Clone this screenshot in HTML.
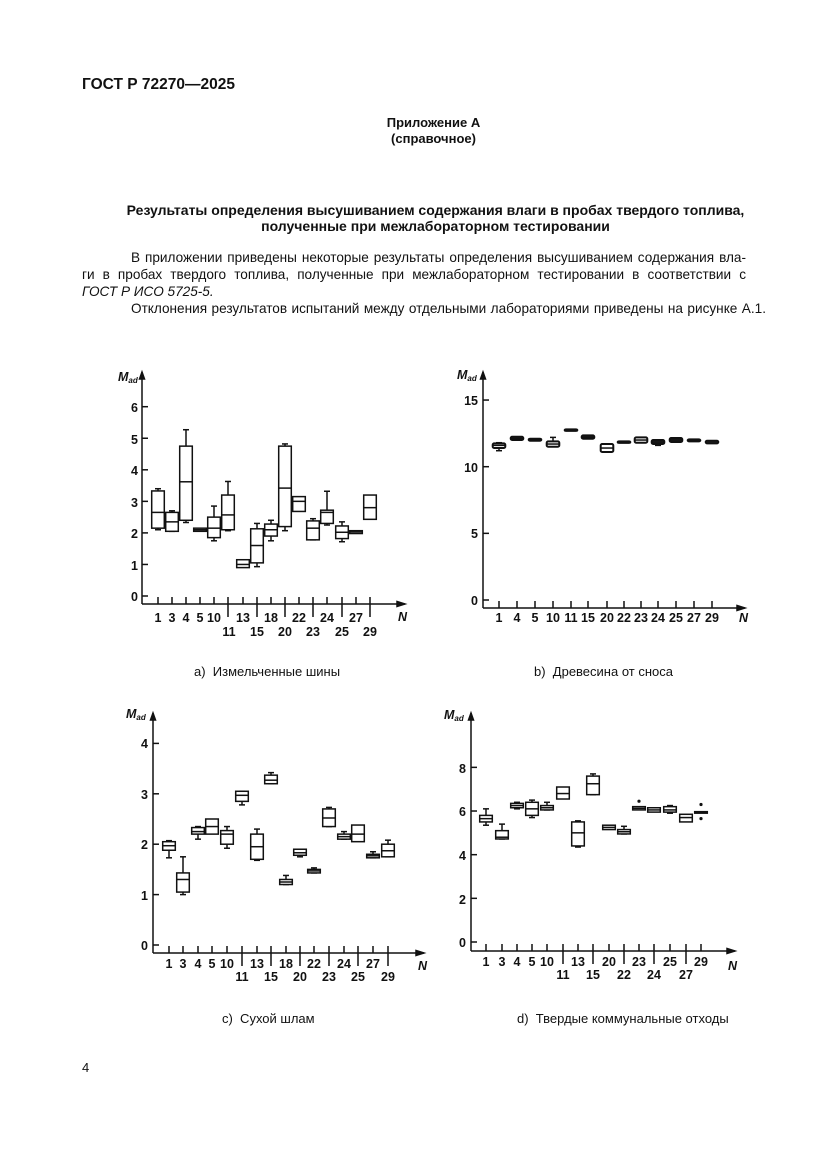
<!DOCTYPE html>
<html><head><meta charset="utf-8"><style>
body{margin:0;background:#fff;}
#p{position:relative;width:827px;height:1169px;font-family:"Liberation Sans",Arial,sans-serif;color:#111;}
.t{position:absolute;font-size:13px;white-space:nowrap;}
.b{font-weight:bold;}
.c{left:20px;width:827px;text-align:center;}
.j{position:absolute;left:82px;width:664px;font-size:13.6px;text-align:justify;text-align-last:justify;white-space:nowrap;}
svg{position:absolute;left:0;top:0;}
svg text{font-family:"Liberation Sans",Arial,sans-serif;font-size:12.5px;font-weight:bold;fill:#111;}
</style></head><body><div id="p">
<div class="t b" style="left:82px;top:76px;font-size:15.5px;">ГОСТ Р 72270—2025</div>
<div class="t b c" style="top:115px;">Приложение А</div>
<div class="t b c" style="top:131px;">(справочное)</div>
<div class="t b c" style="top:202px;font-size:14px;left:22px;">Результаты определения высушиванием содержания влаги в пробах твердого топлива,</div>
<div class="t b c" style="top:218px;font-size:14px;left:22px;">полученные при межлабораторном тестировании</div>
<div class="j" style="left:131px;width:615px;top:250px;">В приложении приведены некоторые результаты определения высушиванием содержания вла-</div>
<div class="j" style="top:267px;">ги в пробах твердого топлива, полученные при межлабораторном тестировании в соответствии с</div>
<div class="t" style="left:82px;top:284px;font-style:italic;font-size:13.6px;">ГОСТ Р ИСО 5725-5.</div>
<div class="j" style="left:131px;width:635px;top:301px;">Отклонения результатов испытаний между отдельными лабораториями приведены на рисунке А.1.</div>
<div class="t" style="left:194px;top:664px;">а)&nbsp; Измельченные шины</div>
<div class="t" style="left:534px;top:664px;">b)&nbsp; Древесина от сноса</div>
<div class="t" style="left:222px;top:1011px;">с)&nbsp; Сухой шлам</div>
<div class="t" style="left:517px;top:1011px;">d)&nbsp; Твердые коммунальные отходы</div>
<div class="t" style="left:82px;top:1060px;">4</div>
<svg id="s" width="827" height="1169" xmlns="http://www.w3.org/2000/svg">
<g font-style="italic"><text x="118" y="381" font-style="italic">M<tspan font-size="8" dy="2">ad</tspan></text>
<text x="457" y="379" font-style="italic">M<tspan font-size="8" dy="2">ad</tspan></text>
<text x="126" y="718" font-style="italic">M<tspan font-size="8" dy="2">ad</tspan></text>
<text x="444" y="719" font-style="italic">M<tspan font-size="8" dy="2">ad</tspan></text>
<text x="398" y="621" font-style="italic">N</text>
<text x="739" y="622" font-style="italic">N</text>
<text x="418" y="970" font-style="italic">N</text>
<text x="728" y="970" font-style="italic">N</text></g>
<g text-anchor="end">
<text x="138" y="601">0</text><text x="138" y="570">1</text><text x="138" y="538">2</text><text x="138" y="507">3</text><text x="138" y="475">4</text><text x="138" y="444">5</text><text x="138" y="412">6</text>
<text x="478" y="605">0</text><text x="478" y="538">5</text><text x="478" y="472">10</text><text x="478" y="405">15</text>
<text x="148" y="950">0</text><text x="148" y="900">1</text><text x="148" y="849">2</text><text x="148" y="799">3</text><text x="148" y="748">4</text>
<text x="466" y="947">0</text><text x="466" y="904">2</text><text x="466" y="860">4</text><text x="466" y="816">6</text><text x="466" y="773">8</text>
</g>
<g text-anchor="middle">
<text x="158" y="622">1</text><text x="172" y="622">3</text><text x="186" y="622">4</text><text x="200" y="622">5</text><text x="214" y="622">10</text><text x="243" y="622">13</text><text x="271" y="622">18</text><text x="299" y="622">22</text><text x="327" y="622">24</text><text x="356" y="622">27</text>
<text x="229" y="636">11</text><text x="257" y="636">15</text><text x="285" y="636">20</text><text x="313" y="636">23</text><text x="342" y="636">25</text><text x="370" y="636">29</text>
<text x="499" y="622">1</text><text x="517" y="622">4</text><text x="535" y="622">5</text><text x="553" y="622">10</text><text x="571" y="622">11</text><text x="588" y="622">15</text><text x="607" y="622">20</text><text x="624" y="622">22</text><text x="641" y="622">23</text><text x="658" y="622">24</text><text x="676" y="622">25</text><text x="694" y="622">27</text><text x="712" y="622">29</text>
<text x="169" y="968">1</text><text x="183" y="968">3</text><text x="198" y="968">4</text><text x="212" y="968">5</text><text x="227" y="968">10</text><text x="257" y="968">13</text><text x="286" y="968">18</text><text x="314" y="968">22</text><text x="344" y="968">24</text><text x="373" y="968">27</text>
<text x="242" y="981">11</text><text x="271" y="981">15</text><text x="300" y="981">20</text><text x="329" y="981">23</text><text x="358" y="981">25</text><text x="388" y="981">29</text>
<text x="486" y="966">1</text><text x="502" y="966">3</text><text x="517" y="966">4</text><text x="532" y="966">5</text><text x="547" y="966">10</text><text x="578" y="966">13</text><text x="609" y="966">20</text><text x="639" y="966">23</text><text x="670" y="966">25</text><text x="701" y="966">29</text>
<text x="563" y="979">11</text><text x="593" y="979">15</text><text x="624" y="979">22</text><text x="654" y="979">24</text><text x="686" y="979">27</text>
</g>
<g id="g" stroke="#111" fill="none" stroke-width="1.5"></g>
</svg>
<script>
var g=document.getElementById('g'),h='';
function L(a,b,c,d){h+='<line x1="'+a+'" y1="'+b+'" x2="'+c+'" y2="'+d+'"/>';}
function chart(o){
 L(o.ax,o.ay,o.ax,o.top);h+='<path d="M'+(o.ax-2.5)+' '+(o.top+7)+'L'+o.ax+' '+o.top+'L'+(o.ax+2.5)+' '+(o.top+7)+'Z" fill="#111"/>';
 L(o.ax,o.ay,o.end,o.ay);h+='<path d="M'+(o.end-8)+' '+(o.ay-2.5)+'L'+o.end+' '+o.ay+'L'+(o.end-8)+' '+(o.ay+2.5)+'Z" fill="#111"/>';
 o.yt.forEach(function(v){var y=o.y0-v*o.k;L(o.ax,y,o.ax+6,y);});
 o.tx.forEach(function(x,i){var lg=o.long.indexOf(i)>=0;L(x,o.ay-7,x,lg?o.ay+13:o.ay);});
 o.d.forEach(function(d,i){if(!d)return;var x=o.tx[i],w=6.3,Y=function(v){return o.y0-v*o.k;};
  if(d[0]!=null){L(x,Y(d[0]),x,Y(d[4]));L(x-3,Y(d[0]),x+3,Y(d[0]));L(x-3,Y(d[4]),x+3,Y(d[4]));}
  var y1=Y(d[3]),y2=Y(d[1]);var hh=Math.max(y2-y1,1.5);
  h+='<rect x="'+(x-w)+'" y="'+y1+'" width="'+(2*w)+'" height="'+hh+'" fill="'+(o.dark&&hh<4.5?'#222':'#fff')+'" rx="'+(o.dark?1.5:0)+'"'+(o.dark?' stroke-width="2"':'')+'/>';
  if(d[2]!=null)L(x-w,Y(d[2]),x+w,Y(d[2]));
  (d[5]||[]).forEach(function(p){h+='<circle cx="'+x+'" cy="'+Y(p)+'" r="1.6" fill="#111" stroke="none"/>';});
 });
}
chart({ax:142,ay:604,top:372,end:405,y0:596,k:31.55,yt:[0,1,2,3,4,5,6],
 tx:[158,172,186,200,214,228,243,257,271,285,299,313,327,342,356,370],long:[5,7,9,11,13,15],
 d:[[2.1,2.15,2.65,3.33,3.4],[2.05,2.05,2.35,2.65,2.7],[2.33,2.4,3.62,4.75,5.27],[null,2.05,2.1,2.15],[1.75,1.85,2.15,2.5,2.85],[2.07,2.1,2.57,3.2,3.63],[null,0.9,1.0,1.15],[0.93,1.05,1.6,2.13,2.3],[1.75,1.9,2.1,2.28,2.4],[2.07,2.2,3.42,4.75,4.82],[null,2.68,3.0,3.15],[1.78,1.78,2.15,2.38,2.45],[2.25,2.3,2.65,2.72,3.32],[1.72,1.82,2.02,2.22,2.35],[null,1.98,2.03,2.07],[null,2.43,2.8,3.2]]});
chart({ax:483,ay:608,top:372,end:745,y0:600,k:13.33,yt:[0,5,10,15],dark:1,
 tx:[499,517,535,553,571,588,607,624,641,658,676,694,712],long:[],
 d:[[11.2,11.4,11.6,11.75,11.8],[null,12.0,12.1,12.25],[null,11.95,12.0,12.1],[11.5,11.5,11.7,11.9,12.2],[null,12.7,null,12.8],[null,12.1,12.2,12.35],[null,11.1,11.4,11.7],[null,11.85,null,11.9],[null,11.8,12.0,12.2],[11.6,11.7,11.85,12.0,12.0],[null,11.85,12.0,12.15],[null,11.9,null,12.05],[null,11.75,null,11.95]]});
chart({ax:153,ay:953,top:713,end:424,y0:945,k:50.4,yt:[0,1,2,3,4],
 tx:[169,183,198,212,227,242,257,271,286,300,314,329,344,358,373,388],long:[5,7,9,11,13,15],
 d:[[1.73,1.88,1.97,2.05,2.07],[1.0,1.05,1.3,1.43,1.75],[2.1,2.2,2.25,2.33,2.35],[null,2.2,2.35,2.5],[1.92,2.0,2.2,2.27,2.35],[2.78,2.85,2.97,3.05,3.05],[1.68,1.7,1.95,2.2,2.3],[3.2,3.2,3.27,3.37,3.42],[1.2,1.2,1.25,1.3,1.38],[1.75,1.78,1.83,1.9,1.9],[1.43,1.43,1.47,1.5,1.53],[2.35,2.35,2.52,2.7,2.73],[2.1,2.1,2.15,2.2,2.25],[null,2.05,2.2,2.38],[1.73,1.73,1.77,1.8,1.85],[1.75,1.75,1.87,2.0,2.08]]});
chart({ax:471,ay:951,top:713,end:735,y0:942,k:21.83,yt:[0,2,4,6,8],
 tx:[486,502,517,532,547,563,578,593,609,624,639,654,670,686,701],long:[5,7,9,11,13],
 d:[[5.35,5.5,5.65,5.8,6.1],[4.72,4.72,4.8,5.1,5.4],[6.1,6.15,6.25,6.35,6.4],[5.7,5.8,6.1,6.4,6.5],[6.05,6.05,6.15,6.25,6.4],[null,6.55,6.8,7.1],[4.35,4.4,5.0,5.5,5.55],[6.75,6.75,7.25,7.6,7.7],[null,5.15,5.25,5.35],[4.95,4.95,5.05,5.15,5.3],[null,6.05,6.12,6.2,null,[6.45]],[null,5.95,6.05,6.15],[5.9,5.95,6.05,6.2,6.25],[null,5.5,5.7,5.85],[null,5.93,null,5.97,null,[6.3,5.65]]]});
g.innerHTML=h;
</script>
</div></body></html>
